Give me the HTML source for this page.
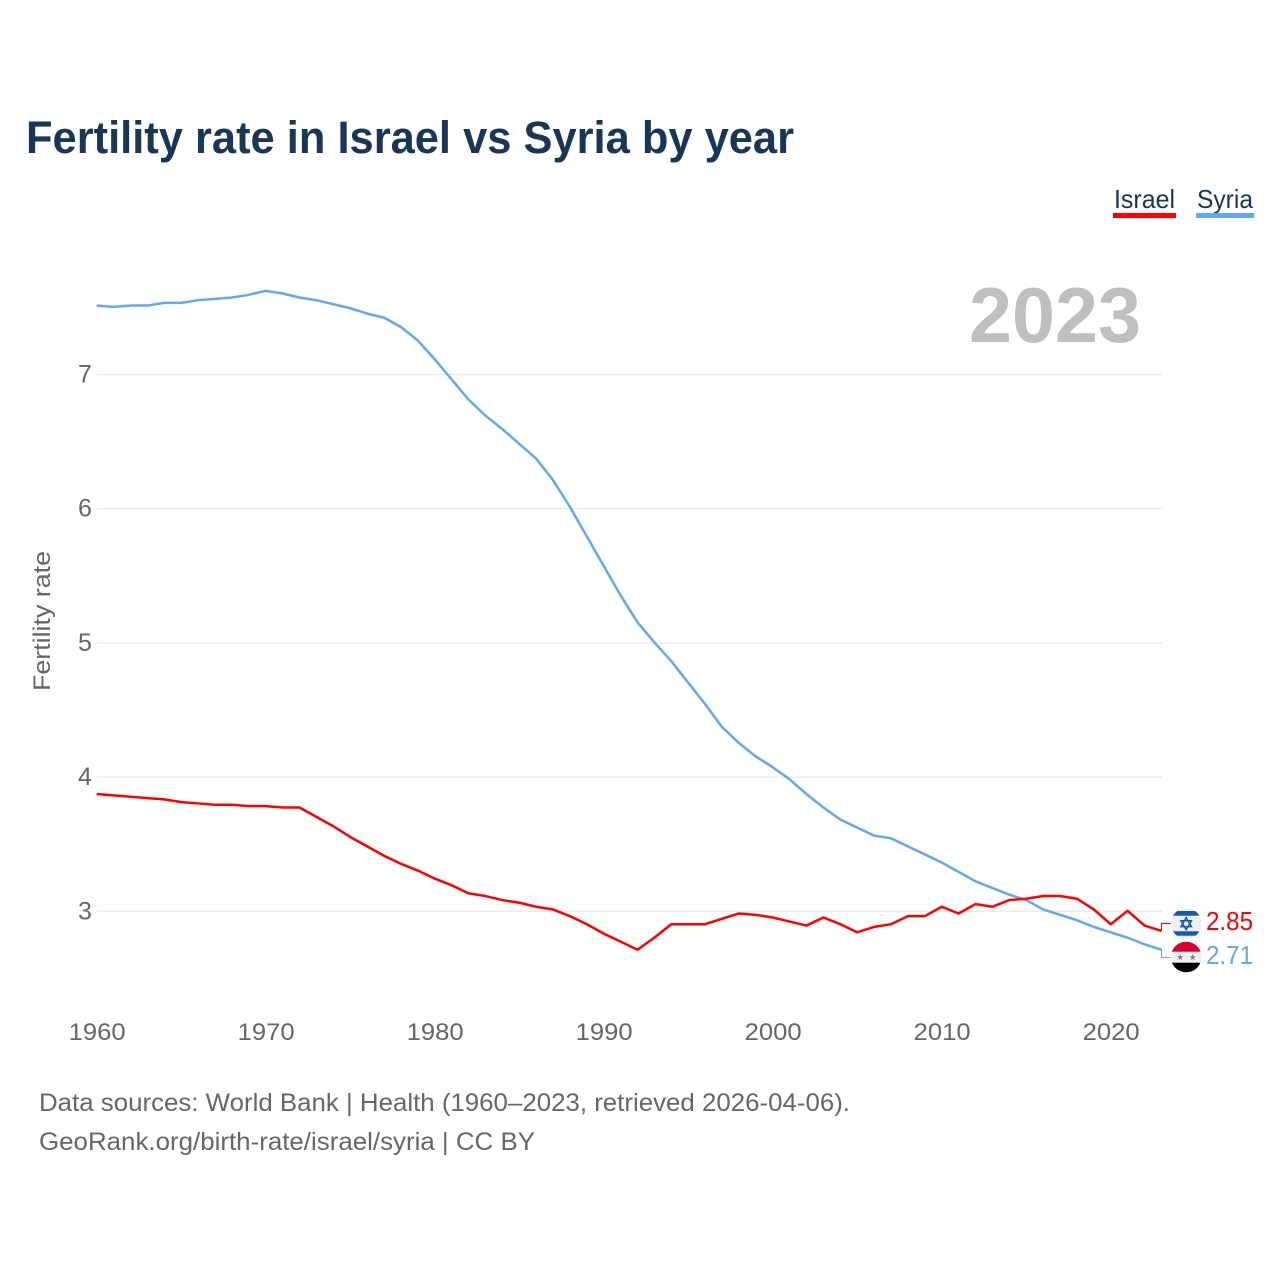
<!DOCTYPE html>
<html lang="en">
<head>
<meta charset="utf-8">
<title>Fertility rate in Israel vs Syria by year</title>
<style>
html,body{margin:0;padding:0;background:#fff;width:1280px;height:1280px;overflow:hidden}
svg{display:block}
text{font-family:"Liberation Sans",sans-serif}
</style>
</head>
<body>
<svg id="chart" width="1280" height="1280" viewBox="0 0 1280 1280" xmlns="http://www.w3.org/2000/svg">
  <defs>
    <clipPath id="clip-il"><circle cx="1186.2" cy="923.5" r="15.3"/></clipPath>
    <clipPath id="clip-sy"><circle cx="1186.2" cy="957" r="15.3"/></clipPath>
  </defs>
  <text x="26" y="153" font-size="45" font-weight="700" fill="#1b3557" textLength="768" lengthAdjust="spacingAndGlyphs">Fertility rate in Israel vs Syria by year</text>

  <g>
    <text x="1114" y="208" font-size="26" fill="#1b3557" textLength="61" lengthAdjust="spacingAndGlyphs">Israel</text>
    <rect x="1113" y="213" width="63" height="5" fill="#ff0000"/>
  </g>
  <g>
    <text x="1197" y="208" font-size="26" fill="#1b3557" textLength="56" lengthAdjust="spacingAndGlyphs">Syria</text>
    <rect x="1196" y="213" width="58" height="5" fill="#63a8ee"/>
  </g>

  <g id="grid"></g>
  <g id="y-ticks"></g>
  <g id="x-ticks"></g>

  <text x="969" y="342" font-size="78" font-weight="700" fill="#bfbfbf" textLength="172" lengthAdjust="spacingAndGlyphs">2023</text>

  <text transform="translate(50,691) rotate(-90)" x="0" y="0" font-size="24" fill="#666666" textLength="140" lengthAdjust="spacingAndGlyphs">Fertility rate</text>

  <g id="series"></g>

  <g clip-path="url(#clip-il)">
    <rect x="1170" y="907" width="32" height="33" fill="#efefef"/>
    <rect x="1170" y="911" width="32" height="4.7" fill="#1257b5"/>
    <rect x="1170" y="931.3" width="32" height="4.4" fill="#1257b5"/>
    <polygon points="1186.2,917.6 1191.4,926.6 1181,926.6" fill="none" stroke="#1257b5" stroke-width="1.5"/>
    <polygon points="1186.2,929.8 1191.4,920.8 1181,920.8" fill="none" stroke="#1257b5" stroke-width="1.5"/>
  </g>
  <g clip-path="url(#clip-sy)">
    <rect x="1170" y="941" width="32" height="11" fill="#d8002c"/>
    <rect x="1170" y="951.7" width="32" height="11" fill="#efefef"/>
    <rect x="1170" y="962.7" width="32" height="11" fill="#000000"/>
    <polygon points="1180.3,953.9 1181.1,956.2 1183.5,956.3 1181.6,957.8 1182.3,960.1 1180.3,958.8 1178.3,960.1 1179,957.8 1177.1,956.3 1179.5,956.2" fill="#808080"/>
    <polygon points="1192.7,953.9 1193.5,956.2 1195.9,956.3 1194,957.8 1194.7,960.1 1192.7,958.8 1190.7,960.1 1191.4,957.8 1189.5,956.3 1191.9,956.2" fill="#808080"/>
  </g>
  <text id="value-israel" x="1206" y="930" font-size="25.5" fill="#ff0000" textLength="47" lengthAdjust="spacingAndGlyphs"></text>
  <text id="value-syria" x="1206" y="964" font-size="25.5" fill="#63a8ee" textLength="47" lengthAdjust="spacingAndGlyphs"></text>

  <text x="39" y="1111" font-size="25" fill="#666666" textLength="811" lengthAdjust="spacingAndGlyphs">Data sources: World Bank | Health (1960–2023, retrieved 2026-04-06).</text>
  <text x="39" y="1150" font-size="25" fill="#666666" textLength="496" lengthAdjust="spacingAndGlyphs">GeoRank.org/birth-rate/israel/syria | CC BY</text>
</svg>
<script>
const startYear = 1960;
const israelValues = [3.87,3.86,3.85,3.84,3.83,3.81,3.80,3.79,3.79,3.78,3.78,3.77,3.77,3.70,3.63,3.55,3.48,3.41,3.35,3.30,3.24,3.19,3.13,3.11,3.08,3.06,3.03,3.01,2.96,2.90,2.83,2.77,2.71,2.80,2.90,2.90,2.90,2.94,2.98,2.97,2.95,2.92,2.89,2.95,2.90,2.84,2.88,2.90,2.96,2.96,3.03,2.98,3.05,3.03,3.08,3.09,3.11,3.11,3.09,3.01,2.90,3.00,2.89,2.85];
const syriaValues = [7.51,7.50,7.51,7.51,7.53,7.53,7.55,7.56,7.57,7.59,7.62,7.60,7.57,7.55,7.52,7.49,7.45,7.42,7.35,7.25,7.11,6.96,6.81,6.69,6.59,6.48,6.37,6.21,6.01,5.79,5.57,5.35,5.15,5.00,4.86,4.70,4.54,4.37,4.25,4.15,4.07,3.98,3.87,3.77,3.68,3.62,3.56,3.54,3.48,3.42,3.36,3.29,3.22,3.17,3.12,3.08,3.01,2.97,2.93,2.88,2.84,2.80,2.75,2.71];
const yTickValues = [3,4,5,6,7];
const xTickYears = [1960,1970,1980,1990,2000,2010,2020];

const NS = 'http://www.w3.org/2000/svg';
function xScale(year){ return 96.7 + (year - 1960) * 16.9; }
function yScale(v){ return 911.3 - (v - 3) * 134.2; }
function make(tag, attrs, parent){
  const el = document.createElementNS(NS, tag);
  for (const k in attrs) el.setAttribute(k, attrs[k]);
  parent.appendChild(el);
  return el;
}
const gridGroup = document.getElementById('grid');
const yGroup = document.getElementById('y-ticks');
const xGroup = document.getElementById('x-ticks');
const seriesGroup = document.getElementById('series');

yTickValues.forEach(function(v){
  const line = make('line', {x1:97, x2:1162, y1:yScale(v), y2:yScale(v), stroke:'#ececec', 'stroke-width':1.5}, gridGroup);
  
  
  const label = make('text', {x:85, y:yScale(v)+8, 'text-anchor':'middle', 'font-size':25, fill:'#666666'}, yGroup);
  label.textContent = String(v);
  
  
});
xTickYears.forEach(function(y){
  const label = make('text', {x:xScale(y)+0.5, y:1040, 'text-anchor':'middle', 'font-size':24, fill:'#666666', textLength:57, lengthAdjust:'spacingAndGlyphs'}, xGroup);
  label.textContent = String(y);
  
  
});
function lineY(v){ return yScale(v) - 0.5; }
function pathFor(values){
  return values.map(function(v,i){ return (i ? 'L' : 'M') + xScale(startYear+i).toFixed(2) + ' ' + lineY(v).toFixed(2); }).join(' ');
}
function connector(values, labelY){
  const last = values.length - 1;
  const ex = Math.floor(xScale(startYear+last)) + 0.5, ey = lineY(values[last]);
  return 'M' + ex + ' ' + ey.toFixed(2) + ' V' + labelY + ' H1171';
}
const syriaLine = make('path', {d:pathFor(syriaValues), fill:'none', stroke:'#63a8ee', 'stroke-width':2.5, 'stroke-linejoin':'round'}, seriesGroup);


const israelLine = make('path', {d:pathFor(israelValues), fill:'none', stroke:'#ff0000', 'stroke-width':2.5, 'stroke-linejoin':'round'}, seriesGroup);


const syriaLink = make('path', {d:connector(syriaValues, 957.5), fill:'none', stroke:'#63a8ee', 'stroke-width':1}, seriesGroup);


const israelLink = make('path', {d:connector(israelValues, 923.5), fill:'none', stroke:'#ff0000', 'stroke-width':1}, seriesGroup);


document.getElementById('value-israel').textContent = israelValues[israelValues.length-1].toFixed(2);
document.getElementById('value-syria').textContent = syriaValues[syriaValues.length-1].toFixed(2);
</script>
</body>
</html>
